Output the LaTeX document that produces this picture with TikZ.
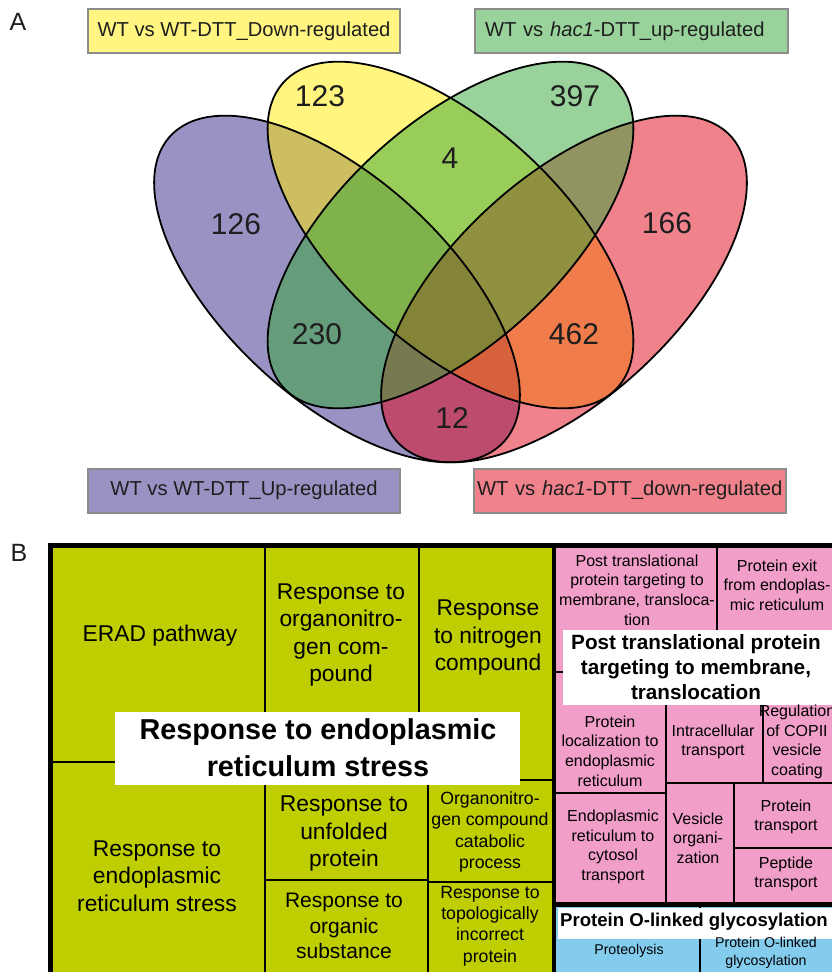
\documentclass[tikz,border=0pt]{standalone}
\usepackage{fontspec}
\setmainfont{Liberation Sans}
\definecolor{vpurp}{RGB}{51,39,135}
\definecolor{vyel}{RGB}{255,235,0}
\definecolor{vgrn}{RGB}{51,167,55}
\definecolor{vred}{RGB}{225,5,25}
\definecolor{tgreen}{RGB}{190,206,0}
\definecolor{tpink}{RGB}{241,158,200}
\definecolor{tblue}{RGB}{132,204,238}
\definecolor{lblgray}{RGB}{140,140,140}
\definecolor{txt}{RGB}{30,30,30}
\begin{document}
\begin{tikzpicture}[x=1pt,y=-1pt,
  vfill/.style={fill opacity=0.5},
  vline/.style={draw=black,line width=1.8},
  vnum/.style={inner sep=0,text=txt,font=\fontsize{30}{36}\selectfont},
  vlab/.style={draw=lblgray,line width=2,inner sep=0,minimum height=44,text=txt,font=\fontsize{20.2}{24}\selectfont},
  panel/.style={inner sep=0,text=txt,font=\fontsize{25}{30}\selectfont},
  cellline/.style={draw=black,line width=1.8},
  thick/.style={draw=black,line width=5},
  whitebox/.style={fill=white,draw=none},
  gbig/.style={align=center,inner sep=0,font=\fontsize{22.8}{27.5}\selectfont},
  gmid/.style={align=center,inner sep=0,font=\fontsize{21}{25.5}\selectfont},
  gsmall/.style={align=center,inner sep=0,font=\fontsize{17.7}{21.3}\selectfont},
  ptxt/.style={align=center,inner sep=0,font=\fontsize{16}{19.6}\selectfont},
  btxt/.style={align=center,inner sep=0,font=\fontsize{14.2}{18}\selectfont},
  title/.style={align=center,inner sep=0,font=\bfseries\fontsize{28.8}{37}\selectfont}]
\useasboundingbox (0,0) rectangle (832,972);

% ---------------- Panel A: Venn ----------------
\begin{scope}[shift={(337,289)},xscale=1.055,rotate=-45]
  \fill[vpurp,vfill] (0,0) ellipse [x radius=220,y radius=108];
\end{scope}
\begin{scope}[shift={(450.5,235)},xscale=1.055,rotate=-45]
  \fill[vyel,vfill] (0,0) ellipse [x radius=220,y radius=108];
\end{scope}
\begin{scope}[shift={(564,289)},xscale=1.055,rotate=45]
  \fill[vred,vfill] (0,0) ellipse [x radius=220,y radius=108];
\end{scope}
\begin{scope}[shift={(450.5,235)},xscale=1.055,rotate=45]
  \fill[vgrn,vfill] (0,0) ellipse [x radius=220,y radius=108];
\end{scope}
% outlines
\begin{scope}[shift={(337,289)},xscale=1.055,rotate=-45]
  \path[vline] (0,0) ellipse [x radius=220,y radius=108];
\end{scope}
\begin{scope}[shift={(450.5,235)},xscale=1.055,rotate=-45]
  \path[vline] (0,0) ellipse [x radius=220,y radius=108];
\end{scope}
\begin{scope}[shift={(564,289)},xscale=1.055,rotate=45]
  \path[vline] (0,0) ellipse [x radius=220,y radius=108];
\end{scope}
\begin{scope}[shift={(450.5,235)},xscale=1.055,rotate=45]
  \path[vline] (0,0) ellipse [x radius=220,y radius=108];
\end{scope}

\node[vnum] (n123) at (320,96) {123};
\node[vnum] (n397) at (575,96) {397};
\node[vnum] (n126) at (236,224) {126};
\node[vnum] (n4)   at (450,158) {4};
\node[vnum] (n166) at (667,223) {166};
\node[vnum] (n230) at (317,334) {230};
\node[vnum] (n462) at (574,334) {462};
\node[vnum] (n12)  at (452,418) {12};

\node[vlab,fill=vyel!50!white,minimum width=312] (lyel) at (244,31) {WT vs WT-DTT\_Down-regulated};
\node[vlab,fill=vgrn!50!white,anchor=west,text width=293,align=left,inner xsep=10] (lgrn) at (474,31) {WT vs \textit{hac1}-DTT\_up-regulated};
\node[vlab,fill=vpurp!50!white,minimum width=312] (lpur) at (244,490.5) {WT vs WT-DTT\_Up-regulated};
\node[vlab,fill=vred!50!white,anchor=west,text width=306,align=left,inner xsep=3] (lred) at (473,490.5) {WT vs \textit{hac1}-DTT\_down-regulated};

\node[panel] (pA) at (18,22) {A};
\node[panel] (pB) at (19,553) {B};

% ---------------- Panel B: treemap ----------------
\fill[tgreen] (53,548) rectangle (554,972);
\fill[tpink] (554,548) rectangle (832,905);
\fill[tblue] (554,905) rectangle (832,972);

% green cell lines
\path[cellline] (265,548) -- (265,972);
\path[cellline] (53,762) -- (265,762);
\path[cellline] (419,548) -- (419,780);
\path[cellline] (265,760) -- (419,760);
\path[cellline] (419,780) -- (554,780);
\path[cellline] (428,780) -- (428,972);
\path[cellline] (265,880) -- (428,880);
\path[cellline] (428,882) -- (554,882);
% pink cell lines
\path[cellline] (717,548) -- (717,672);
\path[cellline] (554,672) -- (832,672);
\path[cellline] (666,672) -- (666,905);
\path[cellline] (763,672) -- (763,783);
\path[cellline] (666,783) -- (832,783);
\path[cellline] (554,793) -- (666,793);
\path[cellline] (734,783) -- (734,905);
\path[cellline] (734,848) -- (832,848);
% blue cell line
\path[cellline] (700,905) -- (700,972);

% thick borders
\path[thick] (50.5,545.5) rectangle (850,990);
\path[draw=black,line width=4] (554,545) -- (554,972);
\path[thick] (554,904.5) -- (832,904.5);

% white title boxes
\fill[whitebox] (115,712) rectangle (520,785);
\fill[whitebox] (563,630) rectangle (840,705);
\fill[whitebox] (558,908) rectangle (840,939);

% green texts
\node[gbig] (erad) at (160,636) {ERAD pathway};
\node[gbig] (ron) at (341,635) {Response to\\organonitro-\\gen com-\\pound};
\node[gbig] (rnc) at (488,638) {Response\\to nitrogen\\compound};
\node[gbig] (rer) at (157,876) {Response to\\endoplasmic\\reticulum stress};
\node[gbig] (rup) at (344,834) {Response to\\unfolded\\protein};
\node[gsmall] (occ) at (490,832) {Organonitro-\\gen compound\\catabolic\\process};
\node[gmid] (ros) at (344,926) {Response to\\organic\\substance};
\node[gsmall] (rti) at (490,926) {Response to\\topologically\\incorrect\\protein};
\node[title] (tgr) at (318,748) {Response to endoplasmic\\reticulum stress};

% pink texts
\node[ptxt] (ptt) at (637,590) {Post translational\\protein targeting to\\membrane, transloca-\\tion};
\node[ptxt] (pex) at (777,585) {Protein exit\\from endoplas-\\mic reticulum};
\node[ptxt] (plo) at (610,751) {Protein\\localization to\\endoplasmic\\reticulum};
\node[ptxt] (pit) at (713,742) {Intracellular\\transport};
\node[ptxt] (prc) at (797,742) {Regulation\\of COPII\\vesicle\\coating};
\node[ptxt] (pec) at (613,847) {Endoplasmic\\reticulum to\\cytosol\\transport};
\node[ptxt] (pvo) at (698,838) {Vesicle\\organi-\\zation};
\node[ptxt] (ppt) at (786,817) {Protein\\transport};
\node[ptxt] (ppe) at (786,874) {Peptide\\transport};
\node[align=center,inner sep=0,font=\bfseries\fontsize{20.7}{25}\selectfont] (tpk) at (696,667) {Post translational protein\\targeting to membrane,\\translocation};

% blue texts
\node[align=center,inner sep=0,font=\bfseries\fontsize{18.6}{22}\selectfont] (tbl) at (694,922) {Protein O-linked glycosylation};
\node[btxt] (bpr) at (629,951) {Proteolysis};
\node[btxt] (bog) at (766,953) {Protein O-linked\\glycosylation};
\end{tikzpicture}
\end{document}
